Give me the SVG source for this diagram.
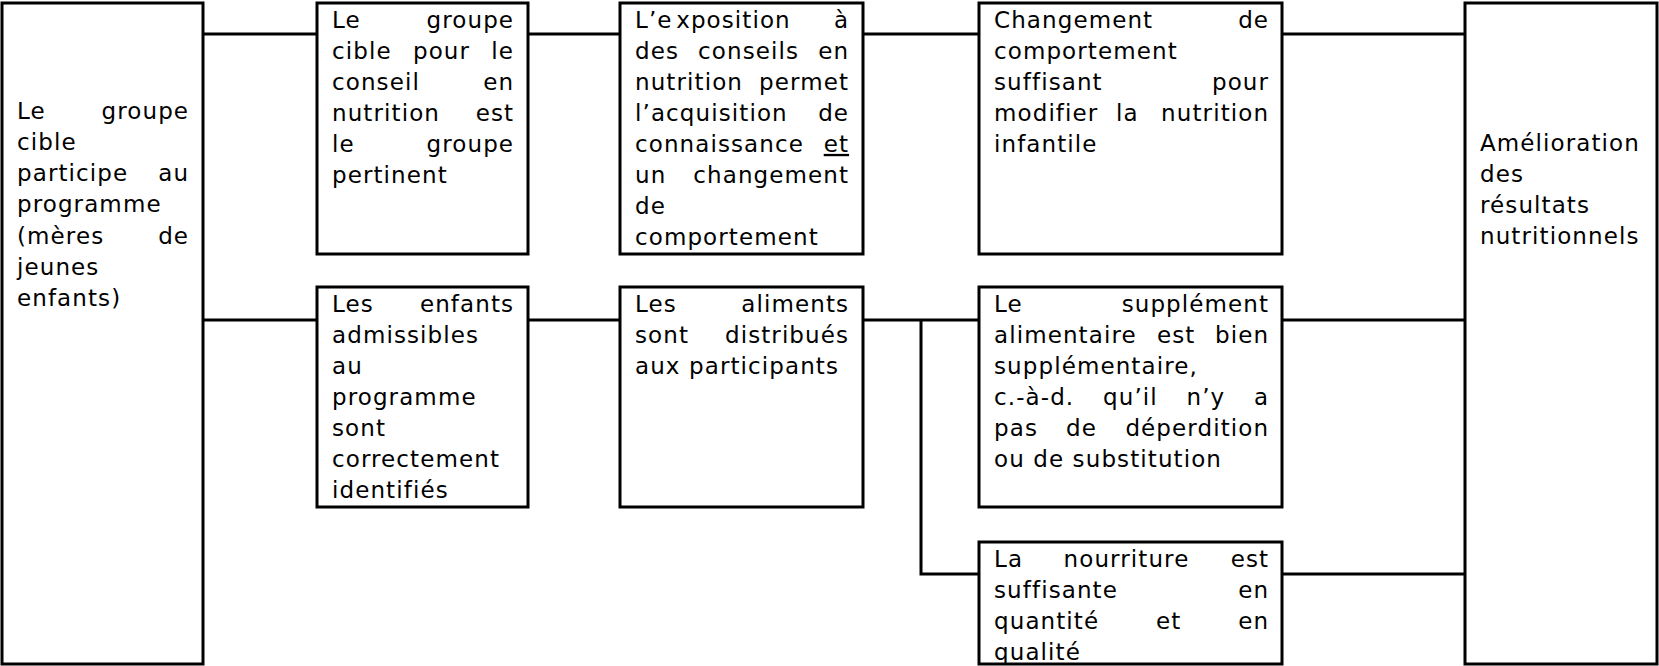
<svg xmlns="http://www.w3.org/2000/svg" width="1659" height="666" viewBox="0 0 1659 666">
<style>
.box{fill:#fff;stroke:#000;stroke-width:3}
.conn{fill:none;stroke:#000;stroke-width:3}
text{font-family:"DejaVu Sans",Verdana,sans-serif;font-size:23px;letter-spacing:1.1px;fill:#000}
.e{text-anchor:end}
.u{text-decoration:underline}
</style>
<rect width="1659" height="666" fill="#fff"/>
<g id="connectors">
<path class="conn" d="M203 34H317M528 34H620M863 34H979M1282 34H1465"/>
<path class="conn" d="M203 320H317M528 320H620M863 320H979M1282 320H1465"/>
<path class="conn" d="M921 320V574H979M1282 574H1465"/>
</g>
<g id="n-participe">
<rect class="box" x="2" y="3" width="201" height="661"/>
<text x="17" y="118.5">Le</text><text class="e" x="189.1" y="118.5">groupe</text>
<text x="17" y="149.8">cible</text>
<text x="17" y="181.1">participe</text><text class="e" x="189.1" y="181.1">au</text>
<text x="17" y="212.4">programme</text>
<text x="17" y="243.7">(mères</text><text class="e" x="189.1" y="243.7">de</text>
<text x="17" y="275">jeunes</text>
<text x="17" y="306.3">enfants)</text>
</g>
<g id="n-cible">
<rect class="box" x="317" y="3" width="211" height="251"/>
<text x="332" y="27.5">Le</text><text class="e" x="514.1" y="27.5">groupe</text>
<text x="332" y="58.6">cible</text><text x="413" y="58.6">pour</text><text class="e" x="514.1" y="58.6">le</text>
<text x="332" y="89.7">conseil</text><text class="e" x="514.1" y="89.7">en</text>
<text x="332" y="120.8">nutrition</text><text class="e" x="514.1" y="120.8">est</text>
<text x="332" y="151.9">le</text><text class="e" x="514.1" y="151.9">groupe</text>
<text x="332" y="183">pertinent</text>
</g>
<g id="n-exposition">
<rect class="box" x="620" y="3" width="243" height="251"/>
<text x="635" y="27.5">L’e<tspan dx="4">xposition</tspan></text><text class="e" x="849.1" y="27.5">à</text>
<text x="635" y="58.6">des</text><text x="698.1" y="58.6">conseils</text><text class="e" x="849.1" y="58.6">en</text>
<text x="635" y="89.7">nutrition</text><text class="e" x="849.1" y="89.7">permet</text>
<text x="635" y="120.8">l’acquisition</text><text class="e" x="849.1" y="120.8">de</text>
<text x="635" y="151.9">connaissance</text><text class="e u" x="849.1" y="151.9">et</text>
<text x="635" y="183">un</text><text class="e" x="849.1" y="183">changement</text>
<text x="635" y="214.1">de</text>
<text x="635" y="245.2">comportement</text>
</g>
<g id="n-changement">
<rect class="box" x="979" y="3" width="303" height="251"/>
<text x="994" y="27.5">Changement</text><text class="e" x="1269.1" y="27.5">de</text>
<text x="994" y="58.6">comportement</text>
<text x="994" y="89.7">suffisant</text><text class="e" x="1269.1" y="89.7">pour</text>
<text x="994" y="120.8">modifier</text><text x="1116.1" y="120.8">la</text><text class="e" x="1269.1" y="120.8">nutrition</text>
<text x="994" y="151.9">infantile</text>
</g>
<g id="n-amelioration">
<rect class="box" x="1465" y="3" width="192" height="661"/>
<text x="1480" y="150.5">Amélioration</text>
<text x="1480" y="181.7">des</text>
<text x="1480" y="212.9">résultats</text>
<text x="1480" y="244.1">nutritionnels</text>
</g>
<g id="n-enfants">
<rect class="box" x="317" y="287" width="211" height="220"/>
<text x="332" y="311.5">Les</text><text class="e" x="514.1" y="311.5">enfants</text>
<text x="332" y="342.6">admissibles</text>
<text x="332" y="373.7">au</text>
<text x="332" y="404.8">programme</text>
<text x="332" y="435.9">sont</text>
<text x="332" y="467">correctement</text>
<text x="332" y="498.1">identifiés</text>
</g>
<g id="n-aliments">
<rect class="box" x="620" y="287" width="243" height="220"/>
<text x="635" y="311.5">Les</text><text class="e" x="849.1" y="311.5">aliments</text>
<text x="635" y="342.6">sont</text><text class="e" x="849.1" y="342.6">distribués</text>
<text x="635" y="373.7">aux participants</text>
</g>
<g id="n-supplement">
<rect class="box" x="979" y="287" width="303" height="220"/>
<text x="994" y="311.5">Le</text><text class="e" x="1269.1" y="311.5">supplément</text>
<text x="994" y="342.6">alimentaire</text><text x="1156.9" y="342.6">est</text><text class="e" x="1269.1" y="342.6">bien</text>
<text x="994" y="373.7">supplémentaire,</text>
<text x="994" y="404.8">c.-à-d.</text><text x="1103" y="404.8">qu’il</text><text x="1186.5" y="404.8">n’y</text><text class="e" x="1269.1" y="404.8">a</text>
<text x="994" y="435.9">pas</text><text x="1066" y="435.9">de</text><text class="e" x="1269.1" y="435.9">déperdition</text>
<text x="994" y="467">ou de substitution</text>
</g>
<g id="n-nourriture">
<rect class="box" x="979" y="542" width="303" height="122"/>
<text x="994" y="566.5">La</text><text x="1063.6" y="566.5">nourriture</text><text class="e" x="1269.1" y="566.5">est</text>
<text x="994" y="597.6">suffisante</text><text class="e" x="1269.1" y="597.6">en</text>
<text x="994" y="628.7">quantité</text><text x="1156" y="628.7">et</text><text class="e" x="1269.1" y="628.7">en</text>
<text x="994" y="659.8">qualité</text>
</g>
</svg>
